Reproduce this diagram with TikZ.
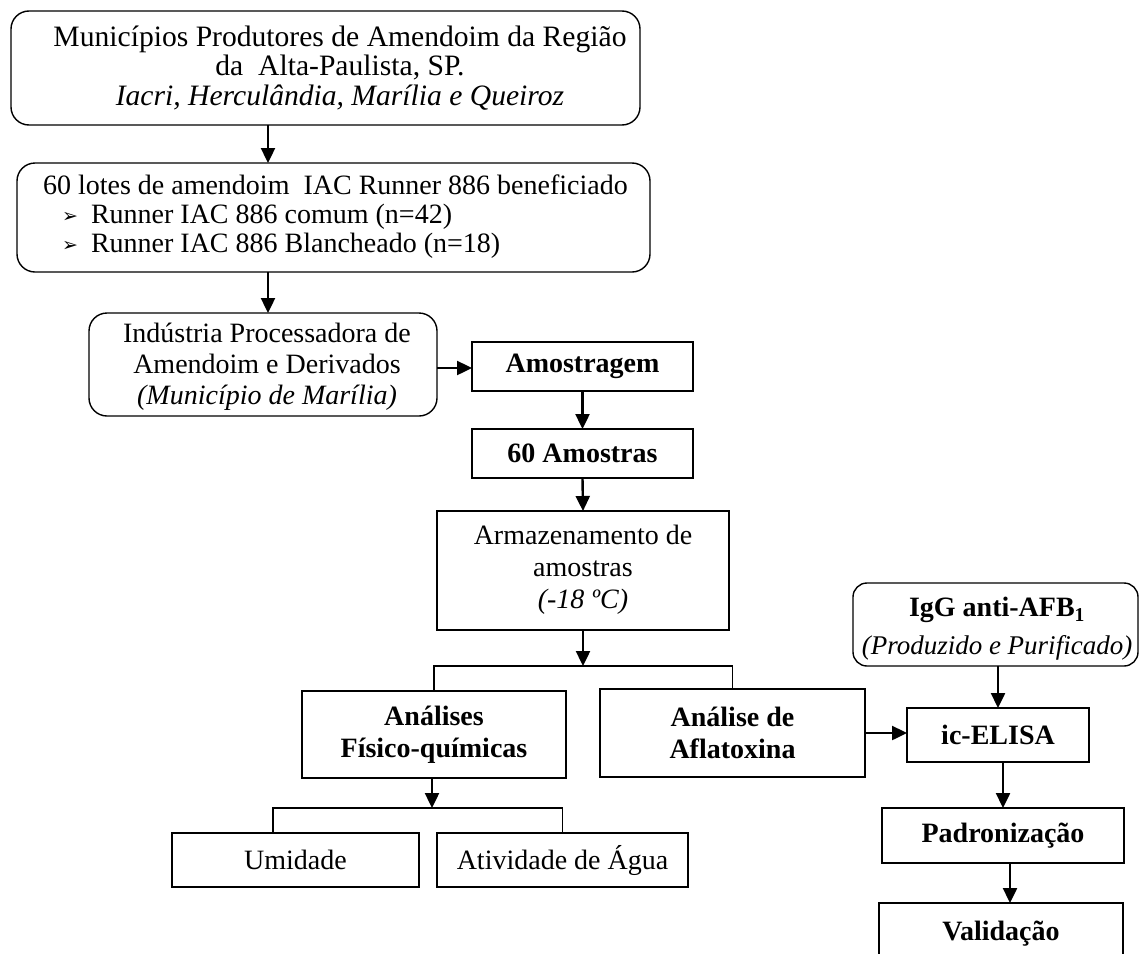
\documentclass[tikz,border=0pt]{standalone}
\usepackage{fontspec}
\setmainfont{Liberation Serif}
\newfontfamily\symfont{DejaVu Sans}
\usetikzlibrary{arrows.meta}
\begin{document}
\begin{tikzpicture}[x=1pt,y=-1pt,
  every node/.style={inner sep=0pt, outer sep=0pt},
  ln/.style={font=\fontsize{28}{31}\selectfont},
  txt/.style={font=\fontsize{28}{31}\selectfont, align=center},
  bul/.style={anchor=base west, font=\symfont\fontsize{19}{19}\selectfont},
  bx/.style={draw, line width=1.4pt, rectangle},
  rbx/.style={bx, rounded corners=18pt},
  arr/.style={line width=2.4pt, -{Triangle[length=15pt,width=14pt]}},
  link/.style={line width=1.3pt},
]
\useasboundingbox (0,0) rectangle (1139,953);
\clip (0,0) rectangle (1139,953);

% top rounded boxes
\node[rbx, minimum width=629pt, minimum height=114pt] (b1) at (325.5,68) {};
\node[txt, font=\fontsize{29.6}{29.5}\selectfont] (t1) at (340,68)
  {Municípios Produtores de Amendoim da Região\\da\ \ Alta-Paulista, SP.\\\textit{Iacri, Herculândia, Marília e Queiroz}};

\node[rbx, minimum width=633pt, minimum height=109pt] (b2) at (333.5,217.5) {};
\node[ln, anchor=base west] (l1) at (43,194) {60 lotes de amendoim\ \ IAC Runner 886 beneficiado};
\node[bul] (bu1) at (62,222) {➢};
\node[ln, anchor=base west] (l2) at (91,223) {Runner IAC 886 comum (n=42)};
\node[bul] (bu2) at (62,251) {➢};
\node[ln, anchor=base west] (l3) at (91,252) {Runner IAC 886 Blancheado (n=18)};

\node[rbx, minimum width=348pt, minimum height=103pt] (b3) at (263,364.5) {};
\node[txt] (t3) at (267,367)
  {Indústria Processadora de\\Amendoim e Derivados\\\textit{(Município de Marília)}};

% main column
\node[bx, minimum width=221pt, minimum height=49pt, txt] (amo) at (582.5,366.5) {\textbf{Amostragem}};
\node[bx, minimum width=221pt, minimum height=49pt, txt] (a60) at (582.5,453.5) {\textbf{60 Amostras}};
\node[bx, minimum width=292pt, minimum height=119pt] (arm) at (583,570.5) {};
\node[txt, font=\fontsize{28}{32}\selectfont] (tarm) at (583,570)
  {Armazenamento de\\amostras\\\textit{(-18 ºC)}};

\node[bx, minimum width=264pt, minimum height=87pt, txt, font=\fontsize{28}{32}\selectfont] (ana) at (434,734.5)
  {\textbf{Análises}\\\textbf{Físico-químicas}};
\node[bx, minimum width=265pt, minimum height=88pt, txt, font=\fontsize{28}{32}\selectfont] (afl) at (732.5,733)
  {\textbf{Análise de}\\\textbf{Aflatoxina}};

\node[bx, minimum width=247pt, minimum height=54pt, txt] (umi) at (295.5,860) {Umidade};
\node[bx, minimum width=251pt, minimum height=54pt, txt] (ati) at (562.5,860) {Atividade de Água};

% right column
\node[rbx, rounded corners=14pt, minimum width=285pt, minimum height=83pt] (igg) at (995.5,624.5) {};
\node[txt, font=\fontsize{28}{38}\selectfont] (tigg) at (997,629)
  {\textbf{IgG anti-AFB\textsubscript{1}}\\{\fontsize{27}{38}\selectfont\textit{(Produzido e Purificado)}}};
\node[bx, minimum width=182pt, minimum height=54pt, txt] (eli) at (998,735) {\textbf{ic-ELISA}};
\node[bx, minimum width=242pt, minimum height=55pt, txt] (pad) at (1003,835.5) {\textbf{Padronização}};
\node[bx, minimum width=244pt, minimum height=62pt, txt] (val) at (1001,934) {\textbf{Validação}};

% connectors
\draw[arr] ([xshift=-57.5pt]b1.south) -- ([xshift=-57.5pt]b1.south |- b2.north);
\draw[arr] ([xshift=-65.5pt]b2.south) -- ([xshift=-65.5pt]b2.south |- b3.north);
\draw[arr] ([yshift=-3.5pt]b3.east) -- ([yshift=-3.5pt]b3.east -| amo.west);
\draw[arr] (amo.south) -- (a60.north);
\draw[arr] (a60.south) -- (arm.north);
\coordinate (j1) at (583,666);
\draw[arr] (arm.south) -- (j1);
\draw[link] (ana.north) |- (j1) -| (afl.north);
\coordinate (j2) at (432,808);
\draw[arr] (ana.south -| j2) -- (j2);
\draw[link] ([xshift=-22.5pt]umi.north) |- (j2) -| (ati.north);
\draw[arr] (afl.east) -- (afl.east -| eli.west);
\draw[arr] (eli.north |- igg.south) -- (eli.north);
\draw[arr] (pad.north |- eli.south) -- (pad.north);
\draw[arr] ([xshift=7pt]pad.south) -- ([xshift=7pt]pad.south |- val.north);
\end{tikzpicture}
\end{document}
